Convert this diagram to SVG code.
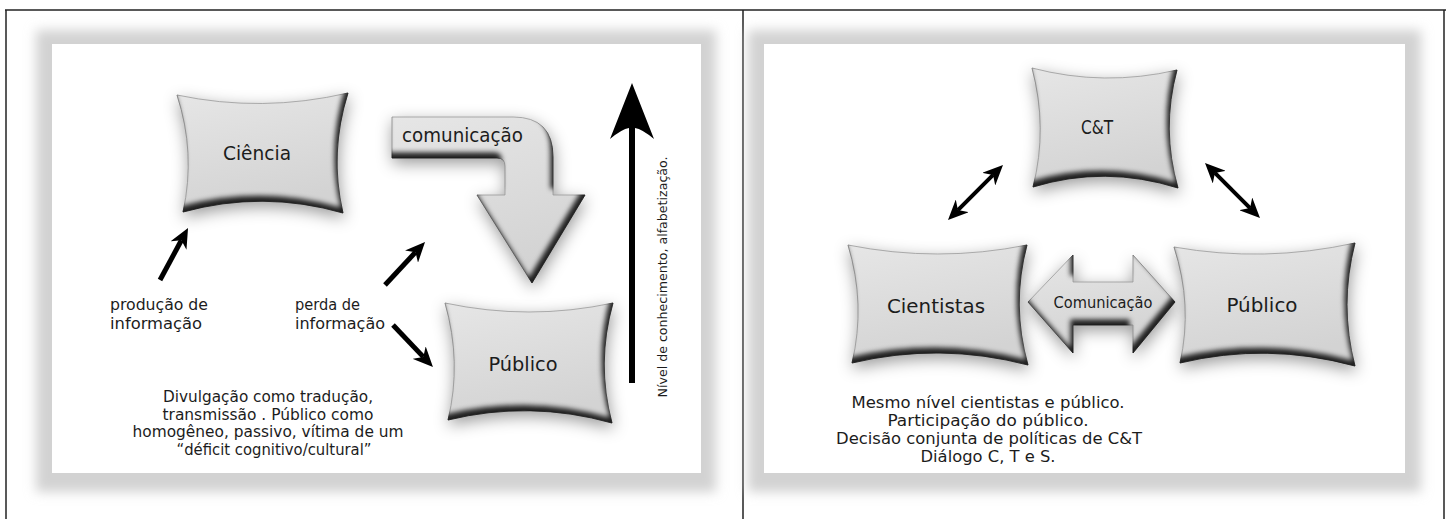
<svg xmlns="http://www.w3.org/2000/svg" width="1450" height="519" viewBox="0 0 1450 519">
<style>
.lbl{font-family:"DejaVu Sans","Open Sans",sans-serif;font-stretch:condensed;fill:#1c1c1c}
.node{fill:url(#gfill);stroke:#9a9a9a;stroke-width:0.8}
.frame{fill:#d2d2d2}
.border{stroke:#222;stroke-width:1.5;fill:none}
.blk{stroke:#000;fill:none}
</style>
<defs>
<linearGradient id="gfill" x1="0" y1="0" x2="0.3" y2="1">
<stop offset="0" stop-color="#e6e6e6"/>
<stop offset="1" stop-color="#d3d3d3"/>
</linearGradient>
<filter id="sh3d" x="-25%" y="-25%" width="150%" height="160%" color-interpolation-filters="sRGB">
<feGaussianBlur in="SourceAlpha" stdDeviation="8" result="blur"/>
<feOffset in="blur" dx="1" dy="5" result="ob"/>
<feFlood flood-color="#000" flood-opacity="0.4"/>
<feComposite in2="ob" operator="in" result="drop"/>
<feGaussianBlur in="SourceAlpha" stdDeviation="2.5" result="ib"/>
<feOffset in="ib" dx="-3" dy="-6" result="iob"/>
<feComposite in="SourceAlpha" in2="iob" operator="out" result="edge"/>
<feFlood flood-color="#000" flood-opacity="0.85"/>
<feComposite in2="edge" operator="in" result="inner"/>
<feMerge><feMergeNode in="drop"/><feMergeNode in="SourceGraphic"/><feMergeNode in="inner"/></feMerge>
</filter>
<filter id="fblur" x="-10%" y="-10%" width="120%" height="120%">
<feGaussianBlur stdDeviation="6"/>
</filter>
<marker id="ah" markerUnits="userSpaceOnUse" markerWidth="20" markerHeight="18" viewBox="0 0 20 18" refX="6" refY="9" orient="auto-start-reverse">
<path d="M0,0 L20,9 L0,18 L6,9 Z" fill="#000"/>
</marker>
</defs>

<g id="page">
<line class="border" x1="5" y1="10" x2="1446" y2="10"/>
<line class="border" x1="6" y1="10" x2="6" y2="519"/>
<line class="border" x1="743" y1="10" x2="743" y2="519"/>
<line class="border" x1="1444" y1="10" x2="1444" y2="519"/>
</g>

<g id="panel-left-bg">
<rect class="frame" x="36" y="30" width="680" height="462" filter="url(#fblur)"/>
<rect x="52" y="44" width="649" height="429" fill="#fff"/>
</g>
<g id="panel-right-bg">
<rect class="frame" x="748" y="30" width="673" height="462" filter="url(#fblur)"/>
<rect x="764" y="44" width="641" height="429" fill="#fff"/>
</g>

<g id="connectors">
<line class="blk" stroke-width="5" x1="160" y1="280" x2="181.4" y2="240.3" marker-end="url(#ah)"/>
<line class="blk" stroke-width="5" x1="385" y1="285" x2="415.5" y2="252.2" marker-end="url(#ah)"/>
<line class="blk" stroke-width="5" x1="393" y1="325" x2="423.3" y2="356.9" marker-end="url(#ah)"/>
<path d="M632,83 L654,139 Q642,129 635,128 L635,383 L629,383 L629,128 Q622,129 610,139 Z" fill="#000"/>
<line class="blk" stroke-width="4" x1="957.9" y1="210.1" x2="993.1" y2="174.9" marker-start="url(#ah)" marker-end="url(#ah)"/>
<line class="blk" stroke-width="4" x1="1214.9" y1="172.9" x2="1250.1" y2="208.1" marker-start="url(#ah)" marker-end="url(#ah)"/>
</g>

<g id="node-ciencia">
<path class="node" filter="url(#sh3d)" d="M177,95 Q262,113 348,93 Q329,153 343,213 Q263,190 183,212 Q196,153 177,95 Z"/>
<text class="lbl" x="257" y="160" font-size="20" text-anchor="middle" textLength="68" lengthAdjust="spacingAndGlyphs">Ciência</text>
</g>

<g id="node-comunicacao-arrow">
<path class="node" filter="url(#sh3d)" d="M392,117 L513,117 Q553,117 553,157 L553,195 L585,195 L532,283 L477,195 L505,195 L505,166 Q505,158 497,158 L392,158 Z"/>
<text class="lbl" x="402" y="142" font-size="20" textLength="121" lengthAdjust="spacingAndGlyphs">comunicação</text>
</g>

<g id="node-publico-left">
<path class="node" filter="url(#sh3d)" d="M445,303 Q529,321 613,303 Q596,363 612,423 Q530,400 448,420 Q462,362 445,303 Z"/>
<text class="lbl" x="523" y="371" font-size="20" text-anchor="middle" textLength="69" lengthAdjust="spacingAndGlyphs">Público</text>
</g>

<g id="labels-left">
<text class="lbl" x="110" y="310" font-size="16" textLength="98" lengthAdjust="spacingAndGlyphs">produção de</text>
<text class="lbl" x="110" y="329" font-size="16" textLength="92" lengthAdjust="spacingAndGlyphs">informação</text>
<text class="lbl" x="295" y="310" font-size="16" textLength="65" lengthAdjust="spacingAndGlyphs">perda de</text>
<text class="lbl" x="295" y="329" font-size="16" textLength="90" lengthAdjust="spacingAndGlyphs">informação</text>
<text class="lbl" font-size="13" text-anchor="middle" transform="translate(667,277) rotate(-90)" textLength="241" lengthAdjust="spacingAndGlyphs">Nível de conhecimento, alfabetização.</text>
<text class="lbl" x="268" y="402" font-size="15" text-anchor="middle" textLength="210" lengthAdjust="spacingAndGlyphs">Divulgação como tradução,</text>
<text class="lbl" x="268" y="419.5" font-size="15" text-anchor="middle" textLength="211" lengthAdjust="spacingAndGlyphs">transmissão . Público como</text>
<text class="lbl" x="268" y="437" font-size="15" text-anchor="middle" textLength="271" lengthAdjust="spacingAndGlyphs">homogêneo, passivo, vítima de um</text>
<text class="lbl" x="274" y="454.5" font-size="15" text-anchor="middle" textLength="195" lengthAdjust="spacingAndGlyphs">“déficit cognitivo/cultural”</text>
</g>

<g id="node-ct">
<path class="node" filter="url(#sh3d)" d="M1032,68 Q1104,87 1177,70 Q1161,129 1178,188 Q1105,165 1033,187 Q1048,128 1032,68 Z"/>
<text class="lbl" x="1097" y="134" font-size="20" text-anchor="middle" textLength="32" lengthAdjust="spacingAndGlyphs">C&amp;T</text>
</g>

<g id="node-comunicacao-double">
<path class="node" filter="url(#sh3d)" d="M1028,302 L1073,255 L1073,282 L1133,282 L1133,255 L1175,302 L1133,353 L1133,325 L1073,325 L1073,353 Z"/>
<text class="lbl" x="1103" y="308" font-size="15" text-anchor="middle" textLength="99" lengthAdjust="spacingAndGlyphs">Comunicação</text>
</g>

<g id="node-cientistas">
<path class="node" filter="url(#sh3d)" d="M848,245 Q938,263 1027,245 Q1011,305 1028,365 Q940,342 852,363 Q866,304 848,245 Z"/>
<text class="lbl" x="936" y="313" font-size="20" text-anchor="middle" textLength="98" lengthAdjust="spacingAndGlyphs">Cientistas</text>
</g>

<g id="node-publico-right">
<path class="node" filter="url(#sh3d)" d="M1174,247 Q1264,263 1355,243 Q1339,305 1355,366 Q1267,342 1180,363 Q1193,305 1174,247 Z"/>
<text class="lbl" x="1262" y="312" font-size="20" text-anchor="middle" textLength="71" lengthAdjust="spacingAndGlyphs">Público</text>
</g>

<g id="labels-right">
<text class="lbl" x="988" y="408" font-size="15" text-anchor="middle" textLength="273" lengthAdjust="spacingAndGlyphs">Mesmo nível cientistas e público.</text>
<text class="lbl" x="988" y="426" font-size="15" text-anchor="middle" textLength="201" lengthAdjust="spacingAndGlyphs">Participação do público.</text>
<text class="lbl" x="989" y="444" font-size="15" text-anchor="middle" textLength="306" lengthAdjust="spacingAndGlyphs">Decisão conjunta de políticas de C&amp;T</text>
<text class="lbl" x="988" y="462" font-size="15" text-anchor="middle" textLength="135" lengthAdjust="spacingAndGlyphs">Diálogo C, T e S.</text>
</g>
</svg>
